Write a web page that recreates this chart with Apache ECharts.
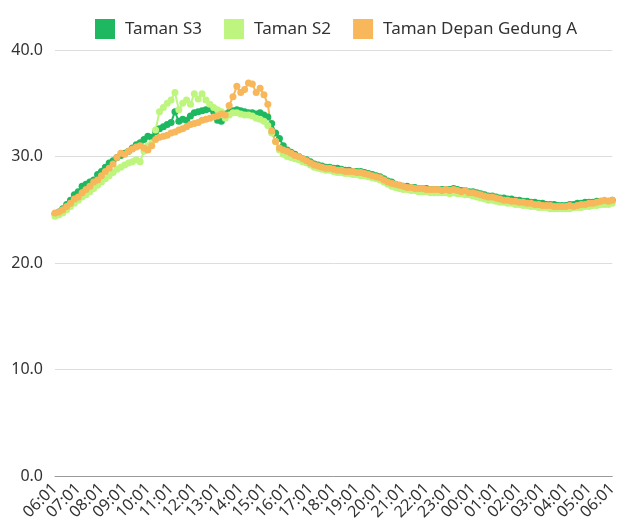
<!DOCTYPE html>
<html>
<head>
<meta charset="utf-8">
<script src="https://cdn.jsdelivr.net/npm/echarts@6/dist/echarts.min.js"></script>
<style>html,body{margin:0;padding:0;background:#fff}#c{width:620px;height:525px}</style>
</head>
<body>
<div id="c"></div>
<script>
// categories: 10-minute readings from 06:01 to 06:01 next day
const times = [];
for (let i = 0; i <= 144; i++) {
  const m = (6 * 60 + 1 + i * 10) % (24 * 60);
  times.push(String(Math.floor(m / 60)).padStart(2, '0') + ':' + String(m % 60).padStart(2, '0'));
}
const seriesNames = ['Taman S3', 'Taman S2', 'Taman Depan Gedung A'];
const tamanS3 = [24.6,24.8,25.1,25.5,25.9,26.4,26.7,27.2,27.4,27.6,27.8,28.3,28.6,29.0,29.4,29.6,29.9,30.1,30.3,30.5,30.8,31.1,31.3,31.6,31.9,31.8,32.3,32.6,32.8,33.0,33.2,34.2,33.3,33.5,33.4,33.8,34.1,34.2,34.3,34.4,34.5,34.2,33.4,33.3,34.0,34.1,34.3,34.4,34.3,34.2,34.1,34.1,34.0,34.1,33.9,33.7,33.1,32.2,31.7,31.0,30.6,30.4,30.2,30.0,29.8,29.7,29.5,29.3,29.2,29.1,29.0,29.0,28.9,28.9,28.8,28.7,28.7,28.6,28.6,28.6,28.5,28.4,28.3,28.2,28.1,27.9,27.7,27.6,27.4,27.3,27.2,27.2,27.1,27.1,27.0,27.0,27.0,26.9,26.9,26.9,26.9,26.9,26.9,27.0,26.9,26.8,26.8,26.7,26.7,26.6,26.5,26.4,26.3,26.3,26.2,26.1,26.1,26.0,26.0,25.9,25.9,25.8,25.8,25.7,25.7,25.6,25.6,25.5,25.5,25.5,25.4,25.4,25.4,25.5,25.5,25.6,25.6,25.7,25.7,25.7,25.8,25.8,25.8,25.8,25.9];
const tamanS2 = [24.4,24.5,24.7,25.0,25.3,25.6,25.9,26.2,26.4,26.7,27.0,27.3,27.6,27.9,28.2,28.5,28.8,29.0,29.2,29.4,29.5,29.7,29.5,30.5,31.0,31.3,32.5,34.2,34.6,35.0,35.3,36.0,34.4,35.0,35.3,34.9,35.9,35.4,35.9,35.3,34.9,34.6,34.4,34.2,33.6,33.9,34.1,34.1,34.0,33.9,33.9,33.8,33.6,33.5,33.3,32.9,32.2,31.4,30.6,30.2,30.0,29.9,29.8,29.7,29.5,29.4,29.2,29.0,28.9,28.8,28.7,28.7,28.6,28.5,28.5,28.4,28.4,28.3,28.3,28.2,28.2,28.1,28.0,27.9,27.8,27.6,27.4,27.2,27.1,27.0,26.9,26.9,26.8,26.8,26.7,26.7,26.7,26.6,26.6,26.6,26.6,26.6,26.5,26.6,26.5,26.5,26.4,26.4,26.3,26.2,26.1,26.0,25.9,25.9,25.8,25.7,25.7,25.6,25.6,25.5,25.5,25.4,25.4,25.3,25.3,25.2,25.2,25.2,25.1,25.1,25.1,25.1,25.1,25.1,25.2,25.2,25.2,25.3,25.3,25.4,25.4,25.5,25.5,25.5,25.6];
const tamanDepan = [24.7,24.8,25.0,25.3,25.6,26.0,26.2,26.6,26.9,27.2,27.6,27.8,28.2,28.6,28.9,29.3,29.9,30.3,30.2,30.5,30.7,30.9,31.0,30.8,30.6,31.0,31.6,31.8,31.9,32.0,32.2,32.3,32.5,32.6,32.8,33.0,33.1,33.2,33.4,33.5,33.6,33.7,33.8,34.0,33.9,34.8,35.6,36.6,36.0,36.3,36.9,36.8,36.0,36.4,35.8,34.9,32.4,31.4,30.8,30.6,30.5,30.3,30.1,30.0,29.8,29.6,29.4,29.2,29.1,29.0,28.9,28.9,28.8,28.7,28.7,28.6,28.6,28.6,28.5,28.5,28.4,28.3,28.2,28.1,28.0,27.8,27.6,27.5,27.4,27.3,27.2,27.1,27.1,27.0,27.0,27.0,26.9,26.9,26.9,26.9,26.8,26.9,26.8,26.9,26.8,26.7,26.8,26.6,26.6,26.5,26.4,26.3,26.2,26.2,26.1,26.0,25.9,25.9,25.8,25.8,25.7,25.7,25.6,25.6,25.5,25.5,25.4,25.4,25.4,25.3,25.3,25.3,25.3,25.4,25.3,25.4,25.5,25.5,25.6,25.6,25.7,25.8,25.9,25.8,25.9];
const colors = ['#1db860', '#bdf57f', '#f7b75a'];
const yMin = 0, yMax = 40, yStep = 10;

const chart = echarts.init(document.getElementById('c'));
const font = '"Noto Sans", sans-serif';
const mk = (name, data, color) => ({
  name, type: 'line', data,
  showAllSymbol: true, symbol: 'circle', symbolSize: 7,
  itemStyle: { color }, lineStyle: { color, width: 2 },
  emphasis: { disabled: true }, animation: false
});
chart.setOption({
  animation: false,
  textStyle: { fontFamily: font },
  legend: {
    top: 14, left: 90, itemWidth: 20, itemHeight: 20, itemGap: 22,
    icon: 'rect',
    textStyle: { fontSize: 17, color: '#333', fontFamily: font, padding: [0, 0, 0, 5] },
    data: seriesNames
  },
  grid: { left: 55, right: 2, top: 50, bottom: 49, containLabel: false },
  xAxis: {
    type: 'category', data: times, boundaryGap: false,
    axisLine: { lineStyle: { color: '#9a9a9a' } },
    axisTick: { show: false },
    axisLabel: { interval: 5, rotate: 45, fontSize: 16, color: '#333', margin: 10, fontFamily: font }
  },
  yAxis: {
    type: 'value', min: yMin, max: yMax, interval: yStep,
    axisLine: { show: false }, axisTick: { show: false },
    splitLine: { lineStyle: { color: '#dddddd' } },
    axisLabel: { fontSize: 16, color: '#333', margin: 12, fontFamily: font, formatter: v => v.toFixed(1) }
  },
  series: [
    mk(seriesNames[0], tamanS3, colors[0]),
    mk(seriesNames[1], tamanS2, colors[1]),
    mk(seriesNames[2], tamanDepan, colors[2])
  ]
});
</script>
</body>
</html>
